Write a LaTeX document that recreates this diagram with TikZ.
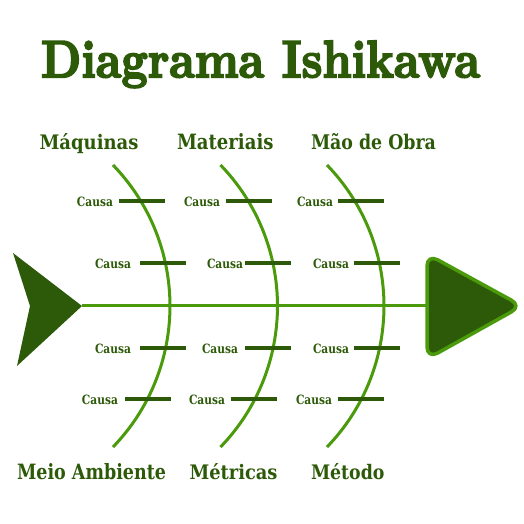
\documentclass[tikz,border=0pt]{standalone}
\usepackage{fontspec}
\usepackage{graphicx}
\newfontfamily\lblfont{DejaVu Serif}
\definecolor{darkg}{HTML}{2D5A08}
\definecolor{brightg}{HTML}{4A9A0C}
\tikzset{
  spineline/.style={brightg, line width=3pt},
  boneline/.style={brightg, line width=3pt},
  barline/.style={darkg, line width=4pt},
  causenode/.style={inner sep=0pt, outer sep=0pt, anchor=base east, text=darkg},
  catnode/.style={inner sep=0pt, outer sep=0pt, anchor=base west, text=darkg},
}
\newcommand\causatxt{\resizebox{36pt}{9.5pt}{\lblfont\bfseries Causa}}
\newcommand\cattxt[2]{\resizebox{#1}{16pt}{\lblfont\bfseries #2}}
\newcommand\heavytxt[1]{\special{pdf:literal direct 2 Tr 0.35 w}#1\special{pdf:literal direct 0 Tr}}
\begin{document}
\begin{tikzpicture}[x=1pt,y=1pt]
\useasboundingbox (0,0) rectangle (524,524);
% title
\node[catnode] (title) at (41,446.7) {\resizebox{439pt}{36.5pt}{\bfseries\heavytxt{Diagrama Ishikawa}}};
% category labels
\node[catnode] (maq) at (39.5,374.7) {\cattxt{99pt}{Máquinas}};
\node[catnode] (mat) at (177,374.7) {\cattxt{96.5pt}{Materiais}};
\node[catnode] (mao) at (311,374.7) {\cattxt{125pt}{Mão de Obra}};
\node[catnode] (meio) at (17,44) {\cattxt{149pt}{Meio Ambiente}};
\node[catnode] (metr) at (189.5,44) {\cattxt{88pt}{Métricas}};
\node[catnode] (meto) at (311,44) {\cattxt{73.5pt}{Método}};
% spine
\coordinate (tailtip) at (82,218);
\coordinate (headl) at (427,218);
\draw[spineline] (tailtip) -- (headl);
% bones
\coordinate (b1) at (113,359);
\coordinate (b2) at (220.5,359);
\coordinate (b3) at (327,359);
\foreach \b in {b1,b2,b3}
  \draw[boneline] (\b) arc[start angle=44, end angle=-44, radius=203];
% bars and causes: row, left x, right x, text right edge
\foreach \y/\xa/\xb/\tr [count=\i] in {
  323/119/165/113, 323/226/272/220, 323/338/384/333,
  261/140/186/131, 261/245/291/243, 261/354/400/349,
  175.5/140/186/131, 175.5/245/291/238, 175.5/354/400/349,
  125.3/125/171/118, 125.3/231/277/225, 125.3/338/384/332}{
  \coordinate (bs\i) at (\xa,\y);
  \coordinate (be\i) at (\xb,\y);
  \draw[barline] (bs\i) -- (be\i);
  \node[causenode] (c\i) at (\tr,\y-5.5) {\causatxt};
}
% tail
\fill[darkg] (13,271) -- (tailtip) -- (17,158) -- (30,218) -- cycle;
% head
\draw[brightg, fill=darkg, line width=3.5pt, rounded corners=12pt, line join=round]
  (427,270) -- (522,218) -- (427,165) -- cycle;
\end{tikzpicture}
\end{document}
